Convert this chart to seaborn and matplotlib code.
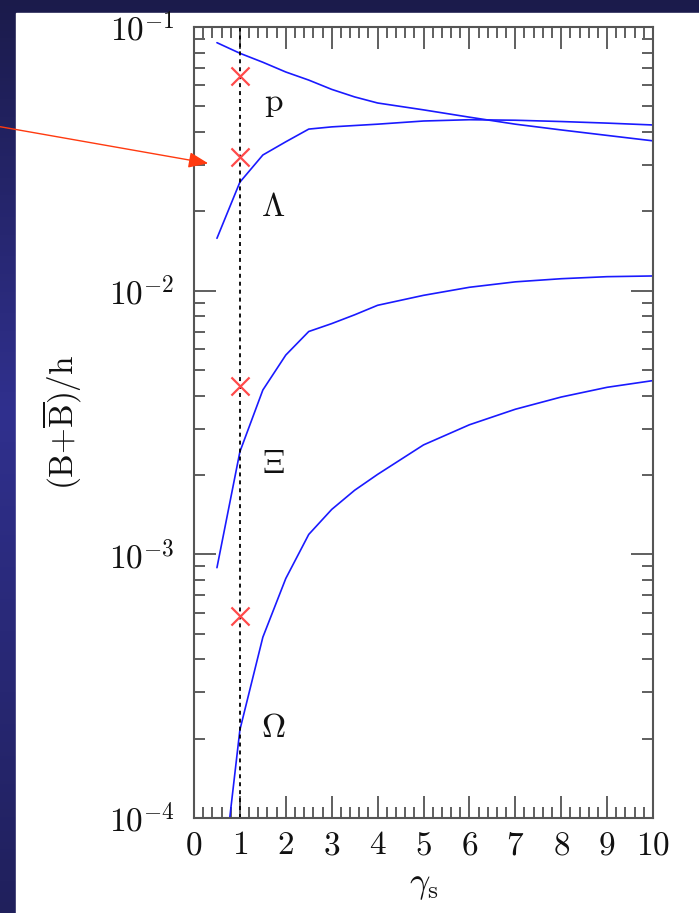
import numpy as np
import pandas as pd
import matplotlib
matplotlib.use("Agg")
import matplotlib.pyplot as plt
from matplotlib.colors import LinearSegmentedColormap
from matplotlib.patches import Rectangle
from matplotlib.ticker import MultipleLocator, LogLocator, FuncFormatter, NullFormatter
import seaborn as sns

# ---------------- data ----------------
gamma = [0.5, 1, 1.5, 2, 2.5, 3, 3.5, 4, 5, 6, 7, 8, 9, 10]
proton = [0.0872, 0.0795, 0.0735, 0.0675, 0.0629, 0.0580, 0.0543, 0.0515,
          0.0485, 0.0455, 0.0428, 0.0407, 0.0388, 0.0370]
lambda_ = [0.0158, 0.0258, 0.0327, 0.0367, 0.0410, 0.0418, 0.0423, 0.0428,
           0.0440, 0.0445, 0.0443, 0.0438, 0.0432, 0.0425]
xi = [0.00089, 0.00245, 0.0042, 0.0057, 0.0070, 0.0075, 0.0081, 0.0088,
      0.0096, 0.0103, 0.0108, 0.0111, 0.0113, 0.01137]
omega = [0.000038, 0.000216, 0.000485, 0.00081, 0.00119, 0.00148, 0.00175,
         0.00201, 0.0026, 0.0031, 0.00355, 0.00395, 0.0043, 0.00456]

data_x = [1, 1, 1, 1]
data_y = [0.0652, 0.0322, 0.00435, 0.000583]

label_text = [r"$\mathrm{p}$", r"$\Lambda$", r"$\Xi$", r"$\Omega$"]
label_x = [1.73, 1.73, 1.73, 1.73]
label_y = [0.0514, 0.0208, 0.0022, 0.000219]

x_ticks = [0, 1, 2, 3, 4, 5, 6, 7, 8, 9, 10]
y_ticks = [1e-4, 1e-3, 1e-2, 1e-1]

# ---------------- style ----------------
sns.set_theme(style="ticks")
plt.rcParams["mathtext.fontset"] = "cm"
plt.rcParams["font.family"] = ["DejaVu Serif"]

W, H = 699, 913
fig = plt.figure(figsize=(W / 100, H / 100), dpi=100)

# background: navy gradient with white panel
bg = fig.add_axes([0, 0, 1, 1], zorder=-10)
bg.axis("off")
cmap = LinearSegmentedColormap.from_list(
    "navy", [(0.0, "#1b1b4b"), (0.45, "#30308e"), (1.0, "#20205c")])
bg.imshow(np.linspace(0, 1, 256)[:, None], aspect="auto", cmap=cmap,
          extent=[0, 1, 0, 1])
bg.add_patch(Rectangle((16 / W, 0), 1, 1 - 13 / H, color="white",
                       transform=bg.transAxes))
bg.set_xlim(0, 1)
bg.set_ylim(0, 1)

ax = fig.add_axes([194 / W, 1 - 818 / H, (653 - 194) / W, (818 - 27) / H])
ax.set_facecolor("white")

for series in (proton, lambda_, xi, omega):
    sns.lineplot(x=gamma, y=series, color="#1a1aff", lw=1.2, ax=ax,
                 estimator=None, sort=False)

ax.axvline(1, color="black", lw=1.3, ls=(0, (2.2, 2.2)))

sns.scatterplot(x=data_x, y=data_y, marker="x", s=170, color="#ff4a4a",
                linewidth=1.6, ax=ax, zorder=5)

for t, lx, ly in zip(label_text, label_x, label_y):
    ax.text(lx, ly, t, fontsize=24, ha="center", va="center",
            color="#111111")

ax.set_yscale("log")
ax.set_xlim(0, 10)
ax.set_ylim(1e-4, 1e-1)

ax.set_xticks(x_ticks)
ax.xaxis.set_minor_locator(MultipleLocator(0.2))
ax.xaxis.set_major_formatter(FuncFormatter(lambda v, _: rf"${int(round(v))}$"))
ax.set_yticks(y_ticks)
ax.yaxis.set_minor_locator(LogLocator(base=10, subs=np.arange(2, 10)))
ax.yaxis.set_minor_formatter(NullFormatter())
ax.yaxis.set_major_formatter(
    FuncFormatter(lambda v, _: rf"$10^{{{int(round(np.log10(v)))}}}$"))

ax.tick_params(which="both", direction="in", top=True, right=True,
               color="#444444", labelsize=24, labelcolor="#111111")
ax.tick_params(which="major", length=16, width=1.2)
ax.tick_params(which="minor", length=8, width=1.2)
ax.tick_params(axis="x", pad=8)
ax.tick_params(axis="y", pad=14)
for s in ax.spines.values():
    s.set_color("#555555")
    s.set_linewidth(1.5)

ax.set_xlabel(r"$\gamma_\mathrm{s}$", fontsize=26, labelpad=5, color="#111111")
ax.set_ylabel(r"$(\mathrm{B}{+}\overline{\mathrm{B}})/\mathrm{h}$", fontsize=24,
              labelpad=18, color="#111111")

ax.annotate("", xy=(0.31, 0.0304), xycoords="data",
            xytext=(0, 1 - 126.7 / H), textcoords="figure fraction",
            arrowprops=dict(arrowstyle="-|>,head_length=1.0,head_width=0.4",
                            color="#ff3a10", lw=1.0, shrinkA=0, shrinkB=0),
            annotation_clip=False)

fig.savefig("out.png", dpi=100)
